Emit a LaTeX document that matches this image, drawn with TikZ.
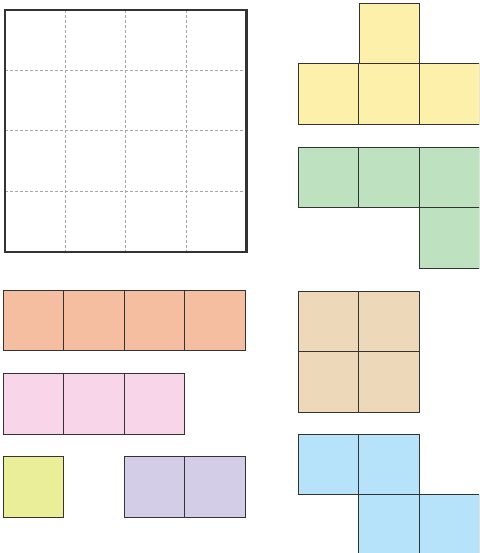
\documentclass[tikz,border=0pt]{standalone}
\tikzset{
  cellbox/.style={draw=black!80, line width=0.9pt},
  frame/.style={draw=black!80, line width=2.6pt},
  gridline/.style={draw=black!35, line width=0.6pt, densely dashed},
}
\definecolor{cyellow}{RGB}{253,240,170}
\definecolor{cgreen}{RGB}{190,226,192}
\definecolor{corange}{RGB}{246,190,160}
\definecolor{cpink}{RGB}{248,213,232}
\definecolor{clime}{RGB}{235,238,152}
\definecolor{cpurple}{RGB}{212,205,232}
\definecolor{ctan}{RGB}{238,216,186}
\definecolor{cblue}{RGB}{182,226,250}
\newcommand{\sqcell}[3]{\fill[#3] (#1,#2) rectangle ++(60.5,60.5); \draw[cellbox] (#1,#2) rectangle ++(60.5,60.5);}
\begin{document}
\begin{tikzpicture}[x=1pt,y=-1pt]
\clip (0,0) rectangle (479,553);
\fill[white] (0,0) rectangle (479,553);
% big square with grid
\foreach \g in {65.5,125.5,186}{
  \draw[gridline] (\g,10) -- (\g,252);
  \draw[gridline] (5,\g+5) -- (246,\g+5);
}
\draw[frame] (5,10) rectangle (246.5,252);
% yellow T
\sqcell{359}{3}{cyellow}
\sqcell{298}{63.5}{cyellow}
\sqcell{358.5}{63.5}{cyellow}
\sqcell{419}{63.5}{cyellow}
% green L
\sqcell{298}{147}{cgreen}
\sqcell{358.5}{147}{cgreen}
\sqcell{419}{147}{cgreen}
\sqcell{419}{207.5}{cgreen}
% orange 4
\sqcell{3}{290}{corange}
\sqcell{63.5}{290}{corange}
\sqcell{124}{290}{corange}
\sqcell{184.5}{290}{corange}
% pink 3
\sqcell{3}{373.5}{cpink}
\sqcell{63.5}{373.5}{cpink}
\sqcell{124}{373.5}{cpink}
% single
\sqcell{3}{456.5}{clime}
% purple 2
\sqcell{124}{456.5}{cpurple}
\sqcell{184.5}{456.5}{cpurple}
% tan 2x2
\sqcell{298}{291}{ctan}
\sqcell{358.5}{291}{ctan}
\sqcell{298}{351.5}{ctan}
\sqcell{358.5}{351.5}{ctan}
% blue S
\sqcell{298}{434}{cblue}
\sqcell{358.5}{434}{cblue}
\sqcell{358.5}{494.5}{cblue}
\sqcell{419}{494.5}{cblue}
\end{tikzpicture}
\end{document}
